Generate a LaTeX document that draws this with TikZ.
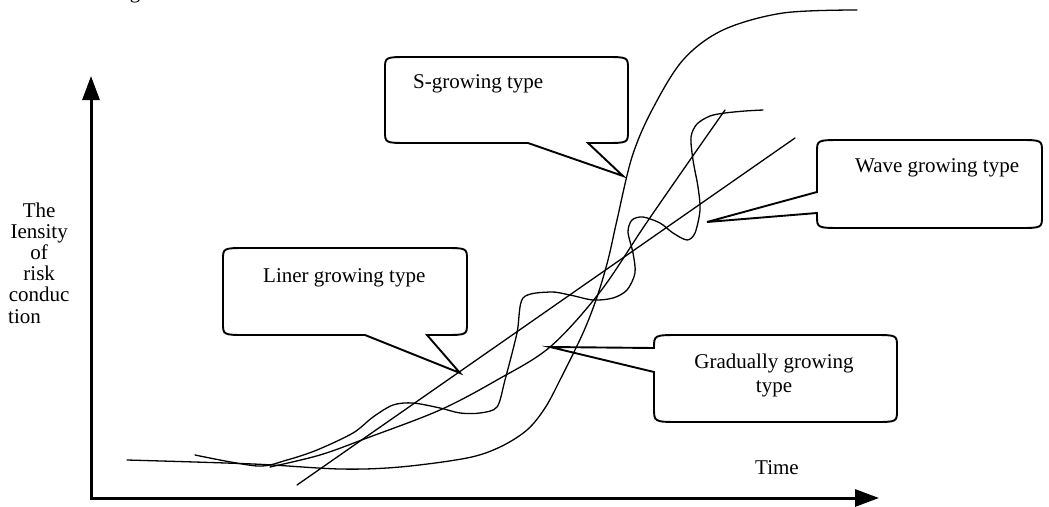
\documentclass[tikz,border=0pt]{standalone}
\usepackage{fontspec}
\setmainfont{Liberation Serif}
\usetikzlibrary{arrows.meta}
\begin{document}
\begin{tikzpicture}[x=1pt,y=-1pt,
  txt/.style={font=\fontsize{21}{24}\selectfont, inner sep=0pt},
  curve/.style={line width=1.3pt, line cap=round, line join=round},
  callout/.style={line width=1.9pt, line join=miter},
  axis/.style={line width=3pt,
    {Triangle[length=24pt,width=17pt]}-{Triangle[length=24pt,width=17pt]}}
]
\useasboundingbox (0,0) rectangle (1049,506);

% fragment of a line of text cut off at the top edge
\node[txt, anchor=base] (cut) at (135,-1.5) {g};

% axes
\coordinate (origin) at (91,498);
\coordinate (ytip) at (91,76);
\coordinate (xtip) at (879,498);
\draw[axis] (ytip) -- (origin) -- (xtip);

% axis labels (base anchor of a multi-line node sits on its last line)
\node[txt, anchor=base west, align=left, font=\fontsize{21}{21.2}\selectfont] (ylabel) at (8,323)
  {\makebox[62pt]{The}\\ \makebox[62pt]{Iensity}\\ \makebox[62pt]{of}\\
   \makebox[62pt]{risk}\\ \makebox[62pt]{conduc}\\ tion};
\node[txt, anchor=base west] (xlabel) at (755,474) {Time};

% S-growing curve
\draw[curve] plot[smooth, tension=0.55] coordinates {
  (127,460) (253,464) (340,469) (400,467) (467,458) (500,447) (527,430)
  (545,408) (560,380) (583,333) (597,297) (608,260) (617,220) (632,157)
  (652,110) (683,60) (723,30) (783,13) (857,10)};

% linear growing line
\coordinate (lin0) at (297,485);
\coordinate (lin1) at (795,138);
\draw[curve] (lin0) -- (lin1);

% gradually growing curve
\draw[curve] plot[smooth, tension=0.55] coordinates {
  (270,467) (320,455) (367,438) (440,410) (497,380) (550,347)
  (600,292) (645,225) (690,160) (725,110)};

% wave growing curve
\draw[curve] plot[smooth, tension=0.5] coordinates {
  (195,455) (257,466) (287,460) (317,450) (353,433) (373,417) (393,405)
  (413,403) (440,408) (460,413) (480,413) (497,407) (505,380) (517,333)
  (523,298) (550,292) (570,295) (593,300) (613,298) (627,290) (635,273)
  (633,253) (628,232) (632,220) (643,217) (660,223) (673,233) (687,240)
  (695,233) (700,210) (698,187) (693,160) (691,137) (697,124) (710,116)
  (725,113) (745,111) (763,110)};

% pointer tips of the callouts
\coordinate (tipS) at (623,176);
\coordinate (tipL) at (460,373);
\coordinate (tipW) at (707,222);
\coordinate (tipG) at (550,347);

% callout: S-growing type
\draw[callout] (409,57) -- (604,57) .. controls (628,57) .. (628,69)
  -- (628,131) .. controls (628,143) .. (604,143) -- (588,143) -- (tipS)
  -- (528,143) -- (409,143) .. controls (385,143) .. (385,131)
  -- (385,69) .. controls (385,57) .. cycle;
\node[txt, anchor=base west] (sType) at (413,88) {S-growing type};

% callout: Liner growing type
\draw[callout] (247,248) -- (443,248) .. controls (467,248) .. (467,260)
  -- (467,323) .. controls (467,335) .. (443,335) -- (427,335) -- (tipL)
  -- (365,335) -- (247,335) .. controls (223,335) .. (223,323)
  -- (223,260) .. controls (223,248) .. cycle;
\node[txt, anchor=base west] (lType) at (263,282) {Liner growing type};

% callout: Wave growing type
\draw[callout] (843,140) -- (1018,140) .. controls (1042,140) .. (1042,152)
  -- (1042,216) .. controls (1042,228) .. (1018,228) -- (843,228)
  .. controls (817,228) .. (817,216) -- (817,213) -- (tipW)
  -- (817,192) -- (817,152) .. controls (817,140) .. cycle;
\node[txt, anchor=base west] (wType) at (855,172) {Wave growing type};

% callout: Gradually growing type
\draw[callout] (680,335) -- (873,335) .. controls (897,335) .. (897,347)
  -- (897,410) .. controls (897,422) .. (873,422) -- (680,422)
  .. controls (654,422) .. (654,408) -- (654,372) -- (tipG)
  -- (654,348) .. controls (654,335) .. cycle;
\node[txt, anchor=base, align=center, font=\fontsize{21}{24}\selectfont] (gType) at (774,392)
  {Gradually growing\\ type};
\end{tikzpicture}
\end{document}
